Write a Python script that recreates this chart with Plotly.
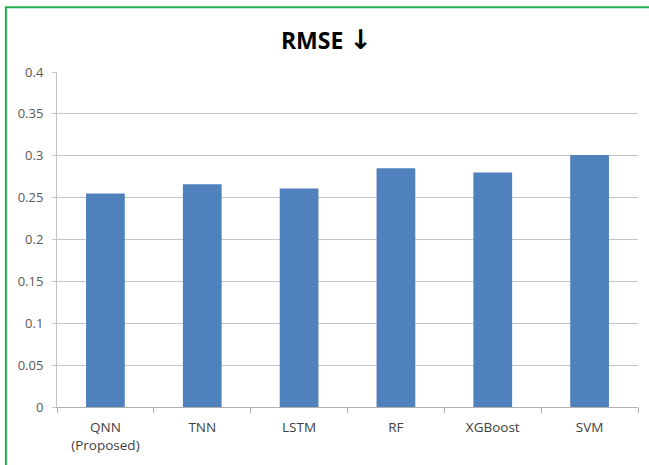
import plotly.graph_objects as go

# Model names and their RMSE scores
models = ["QNN<br>(Proposed)", "TNN", "LSTM", "RF", "XGBoost", "SVM"]
rmse = [0.255, 0.266, 0.261, 0.285, 0.280, 0.301]
y_ticks = [0, 0.05, 0.1, 0.15, 0.2, 0.25, 0.3, 0.35, 0.4]
y_tick_text = ["0", "0.05", "0.1", "0.15", "0.2", "0.25", "0.3", "0.35", "0.4"]

fig = go.Figure(
    go.Bar(
        x=models,
        y=rmse,
        marker=dict(color="#4F81BD", line=dict(width=0)),
    )
)

fig.update_layout(
    width=649,
    height=465,
    margin=dict(l=57, r=11, t=72, b=55),
    paper_bgcolor="white",
    plot_bgcolor="white",
    bargap=0.6,
    showlegend=False,
    title=dict(
        text="<b>RMSE <span style='font-family:Noto Sans, DejaVu Sans;font-size:27px'>↓</span></b>",
        x=0.503,
        xanchor="center",
        y=0.912,
        yanchor="middle",
        font=dict(family="Open Sans, Liberation Sans, sans-serif", size=23, color="#000000"),
    ),
    font=dict(family="Open Sans, Liberation Sans, sans-serif", size=13, color="#595959"),
)

fig.update_yaxes(
    range=[0, 0.4],
    tickvals=y_ticks,
    ticktext=y_tick_text,
    showgrid=True,
    gridcolor="#C4C4C4",
    gridwidth=1,
    zeroline=False,
    showline=True,
    linecolor="#C4C4C4",
    linewidth=1,
    ticks="outside",
    ticklen=4,
    tickcolor="#C4C4C4",
    ticklabelstandoff=6,
    tickfont=dict(size=13, color="#595959"),
    fixedrange=True,
)

fig.update_xaxes(
    showline=True,
    linecolor="#B0B0B0",
    linewidth=1,
    ticks="outside",
    tickson="boundaries",
    ticklen=5,
    tickcolor="#B0B0B0",
    ticklabelstandoff=8,
    tickfont=dict(size=13.5, color="#404040"),
    showgrid=False,
    fixedrange=True,
)

# Green frame around the chart area
fig.add_shape(
    type="rect",
    xref="paper",
    yref="paper",
    x0=-0.088,
    x1=1.1,
    y0=-0.4,
    y1=1.193,
    line=dict(color="#22B14C", width=2),
    fillcolor="rgba(0,0,0,0)",
    layer="above",
)

fig.write_html("out.html")
